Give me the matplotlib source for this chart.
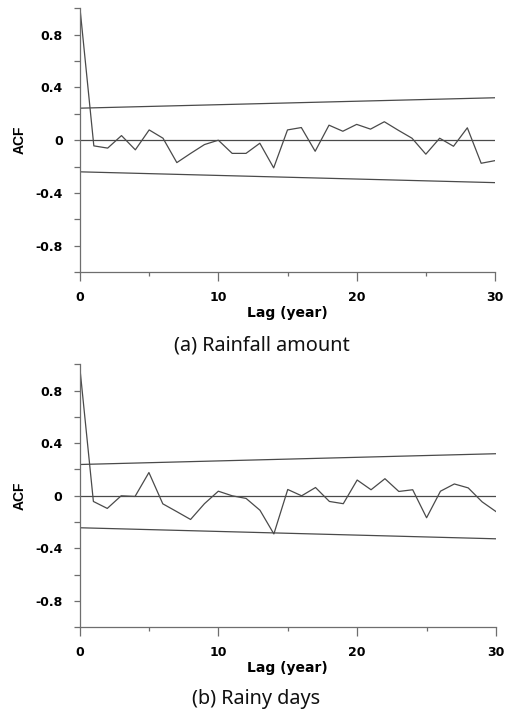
import matplotlib
matplotlib.use("Agg")
import matplotlib.pyplot as plt
from matplotlib.ticker import FixedLocator

lags = list(range(31))
acf_rain = [1.0, -0.043, -0.06, 0.035, -0.073, 0.078, 0.015, -0.17, -0.10, -0.033,
            0.0, -0.10, -0.10, -0.023, -0.21, 0.078, 0.096, -0.084, 0.114, 0.068,
            0.12, 0.084, 0.14, 0.076, 0.015, -0.106, 0.015, -0.046, 0.094, -0.175, -0.155]
acf_days = [1.0, -0.043, -0.096, 0.0, -0.005, 0.177, -0.061, -0.12, -0.18, -0.06,
            0.035, 0.0, -0.02, -0.11, -0.29, 0.048, 0.0, 0.063, -0.043, -0.06,
            0.12, 0.046, 0.13, 0.033, 0.046, -0.167, 0.035, 0.09, 0.06, -0.046, -0.12]
band_lags = [0, 30]
rain_upper = [0.243, 0.322]
rain_lower = [-0.240, -0.322]
days_upper = [0.238, 0.320]
days_lower = [-0.243, -0.327]

xticks_major = [0, 10, 20, 30]
xticks_minor = [5, 15, 25]
yticks_major = [-0.8, -0.4, 0, 0.4, 0.8]
ytick_labels = ["-0.8", "-0.4", "0", "0.4", "0.8"]
yticks_minor = [-1.0, -0.6, -0.2, 0.2, 0.6, 1.0]
captions = ["(a) Rainfall amount", "(b) Rainy days"]

W, H = 512, 713
fig = plt.figure(figsize=(W / 100, H / 100), dpi=100)

line_col = "#4a4a4a"
axis_col = "#6e6e6e"
tick_font = dict(family=["DejaVu Sans"], weight="bold", size=9)

def make_panel(rect, acf, upper, lower, caption, cap_x, cap_y):
    ax = fig.add_axes(rect)
    ax.plot(lags, acf, color=line_col, lw=0.9)
    ax.plot(band_lags, upper, color=line_col, lw=0.9)
    ax.plot(band_lags, lower, color=line_col, lw=0.9)
    ax.axhline(0, color=line_col, lw=0.9)
    ax.set_xlim(0, 30)
    ax.set_ylim(-1, 1)
    for s in ["top", "right"]:
        ax.spines[s].set_visible(False)
    for s in ["left", "bottom"]:
        ax.spines[s].set_color(axis_col)
        ax.spines[s].set_linewidth(0.9)
    ax.xaxis.set_major_locator(FixedLocator(xticks_major))
    ax.xaxis.set_minor_locator(FixedLocator(xticks_minor))
    ax.yaxis.set_major_locator(FixedLocator(yticks_major))
    ax.yaxis.set_minor_locator(FixedLocator(yticks_minor))
    ax.set_xticklabels([str(v) for v in xticks_major], **tick_font)
    ax.set_yticklabels(ytick_labels, **tick_font)
    ax.tick_params(axis="x", which="major", length=6.5, width=0.9, color=axis_col, pad=7)
    ax.tick_params(axis="x", which="minor", length=3, width=0.9, color=axis_col)
    ax.tick_params(axis="y", which="both", length=4.3, width=0.9, color=axis_col, pad=8)
    ax.set_ylabel("ACF", family=["Liberation Sans Narrow", "Liberation Sans", "DejaVu Sans"],
                  weight="bold", size=10)
    ax.yaxis.set_label_coords(-0.128, 0.5)
    ax.set_xlabel("Lag (year)", family=["DejaVu Sans"], weight="bold", size=10)
    ax.xaxis.set_label_coords(0.5, -0.128)
    fig.text(cap_x, cap_y, caption, ha="center", va="baseline",
             family=["Noto Sans", "DejaVu Sans"], size=14.3, color="#111111")
    return ax

make_panel([80 / W, 1 - 272 / H, 415 / W, 263.6 / H], acf_rain, rain_upper, rain_lower,
           captions[0], 262 / W, 1 - 351 / H)
make_panel([79.5 / W, 1 - 627.3 / H, 416.5 / W, 263 / H], acf_days, days_upper, days_lower,
           captions[1], 256.5 / W, 1 - 704.3 / H)

fig.savefig("out.png", dpi=100)
